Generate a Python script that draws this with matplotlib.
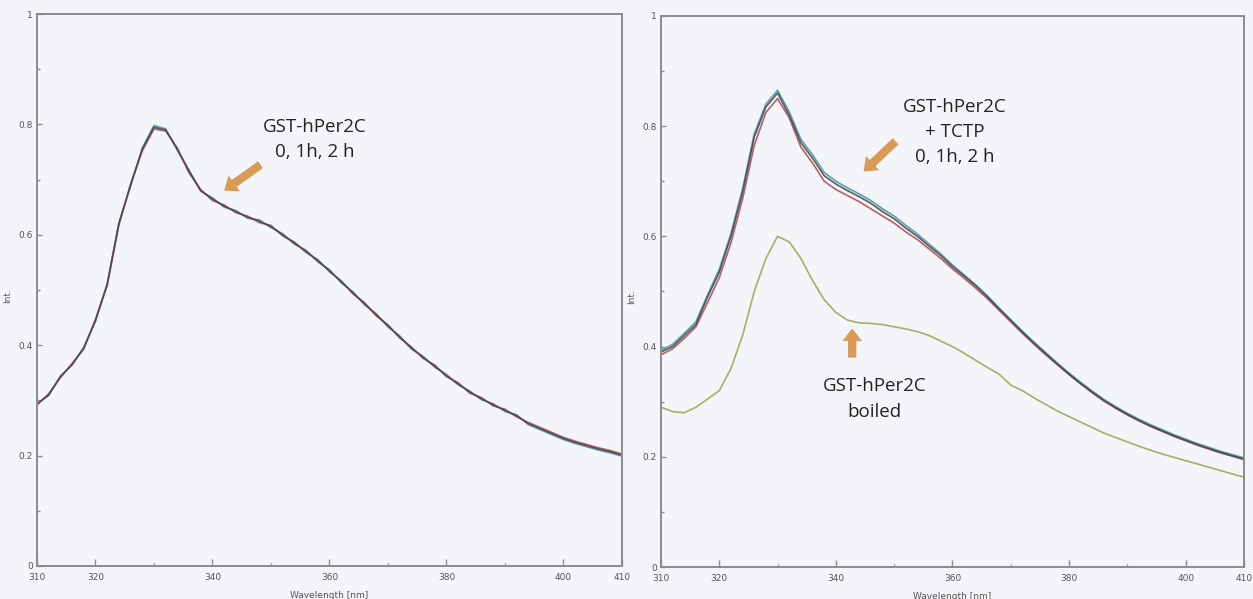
import matplotlib.pyplot as plt
import numpy as np
from matplotlib.ticker import MultipleLocator, FuncFormatter

# wavelength grid of the spectra (nm)
wavelength = np.arange(310, 412, 2)

# left panel: GST-hPer2C at 0, 1 h, 2 h
left_black = [0.293, 0.310, 0.343, 0.365, 0.395, 0.445, 0.510, 0.620, 0.690, 0.755,
              0.795, 0.790, 0.755, 0.715, 0.680, 0.665, 0.652, 0.642, 0.632, 0.625,
              0.615, 0.600, 0.585, 0.570, 0.553, 0.535, 0.515, 0.495, 0.475, 0.455,
              0.435, 0.415, 0.395, 0.378, 0.362, 0.345, 0.330, 0.315, 0.303, 0.292,
              0.282, 0.272, 0.258, 0.249, 0.240, 0.231, 0.224, 0.218, 0.212, 0.207, 0.201]
left_red = [0.292, 0.312, 0.341, 0.367, 0.393, 0.447, 0.508, 0.618, 0.692, 0.752,
            0.792, 0.788, 0.757, 0.712, 0.682, 0.662, 0.654, 0.640, 0.634, 0.622,
            0.617, 0.598, 0.587, 0.568, 0.555, 0.533, 0.517, 0.493, 0.477, 0.453,
            0.437, 0.413, 0.397, 0.376, 0.364, 0.343, 0.332, 0.313, 0.305, 0.290,
            0.284, 0.270, 0.260, 0.251, 0.242, 0.233, 0.226, 0.220, 0.214, 0.209, 0.203]
left_cyan = [0.294, 0.309, 0.344, 0.364, 0.396, 0.443, 0.511, 0.621, 0.688, 0.757,
             0.798, 0.792, 0.753, 0.717, 0.679, 0.667, 0.650, 0.644, 0.630, 0.627,
             0.613, 0.602, 0.583, 0.572, 0.551, 0.537, 0.513, 0.497, 0.473, 0.457,
             0.433, 0.417, 0.393, 0.380, 0.360, 0.347, 0.328, 0.317, 0.301, 0.294,
             0.280, 0.274, 0.256, 0.247, 0.238, 0.229, 0.222, 0.216, 0.210, 0.205, 0.199]

# right panel: GST-hPer2C + TCTP at 0, 1 h, 2 h, and boiled GST-hPer2C
right_black = [0.390, 0.400, 0.420, 0.440, 0.490, 0.535, 0.600, 0.680, 0.780, 0.835,
               0.860, 0.820, 0.770, 0.742, 0.710, 0.695, 0.683, 0.672, 0.660, 0.645,
               0.632, 0.615, 0.600, 0.582, 0.565, 0.545, 0.528, 0.510, 0.490, 0.468,
               0.447, 0.426, 0.406, 0.387, 0.368, 0.350, 0.333, 0.317, 0.302, 0.289,
               0.277, 0.266, 0.256, 0.247, 0.238, 0.230, 0.222, 0.215, 0.208, 0.202, 0.196]
right_red = [0.385, 0.396, 0.415, 0.436, 0.480, 0.525, 0.588, 0.668, 0.765, 0.825,
             0.850, 0.815, 0.762, 0.733, 0.700, 0.685, 0.674, 0.663, 0.650, 0.637,
             0.624, 0.608, 0.594, 0.577, 0.560, 0.541, 0.524, 0.506, 0.487, 0.466,
             0.445, 0.424, 0.404, 0.385, 0.367, 0.349, 0.332, 0.316, 0.301, 0.288,
             0.276, 0.265, 0.255, 0.246, 0.237, 0.229, 0.221, 0.214, 0.207, 0.201, 0.195]
right_cyan = [0.393, 0.404, 0.424, 0.445, 0.494, 0.540, 0.605, 0.686, 0.786, 0.840,
              0.865, 0.826, 0.776, 0.748, 0.716, 0.700, 0.688, 0.677, 0.665, 0.650,
              0.637, 0.620, 0.604, 0.586, 0.568, 0.548, 0.530, 0.512, 0.492, 0.470,
              0.449, 0.428, 0.408, 0.389, 0.370, 0.352, 0.335, 0.319, 0.304, 0.291,
              0.279, 0.268, 0.258, 0.249, 0.240, 0.232, 0.224, 0.217, 0.210, 0.204, 0.198]
right_boiled = [0.290, 0.282, 0.280, 0.290, 0.305, 0.320, 0.360, 0.420, 0.500, 0.560,
                0.600, 0.590, 0.560, 0.520, 0.485, 0.462, 0.448, 0.443, 0.442, 0.440,
                0.436, 0.432, 0.427, 0.420, 0.410, 0.400, 0.388, 0.375, 0.362, 0.350,
                0.330, 0.320, 0.307, 0.295, 0.283, 0.273, 0.263, 0.253, 0.243, 0.235,
                0.227, 0.219, 0.212, 0.205, 0.199, 0.193, 0.187, 0.181, 0.175, 0.169, 0.163]

bg = "#f4f5f8"
spine_col = "#8c8c8c"
arrow_col = "#d99a55"
text_font = ["Open Sans", "DejaVu Sans"]
arrow_style = "simple,head_width=1.4,head_length=0.9,tail_width=0.6"

fig = plt.figure(figsize=(12.53, 5.99), dpi=100, facecolor=bg)
ax1 = fig.add_axes([0.0295, 0.0551, 0.4669, 0.9215])
ax2 = fig.add_axes([0.5275, 0.0534, 0.4653, 0.9200])

for ax in (ax1, ax2):
    ax.set_facecolor(bg)
    ax.set_xlim(310, 410)
    ax.set_ylim(0, 1)
    for s in ax.spines.values():
        s.set_color(spine_col)
        s.set_linewidth(1.4)
    ax.xaxis.set_minor_locator(MultipleLocator(10))
    ax.set_xticks([310, 320, 340, 360, 380, 400, 410])
    ax.yaxis.set_major_locator(MultipleLocator(0.2))
    ax.yaxis.set_minor_locator(MultipleLocator(0.1))
    ax.yaxis.set_major_formatter(FuncFormatter(lambda v, p: "%g" % round(v, 2)))
    ax.tick_params(which="both", direction="in", colors=spine_col, labelcolor="#555555",
                   labelsize=6.5, top=False, right=False)
    ax.tick_params(axis="x", which="major", length=5, width=1, pad=5)
    ax.tick_params(axis="y", which="major", length=3.5, width=1, pad=3)
    ax.tick_params(which="minor", length=2, width=1)
    ax.set_ylabel("Int.", fontsize=6.5, color="#555555")
    ax.set_xlabel("Wavelength [nm]", fontsize=6.5, color="#555555")
    ax.yaxis.set_label_coords(-0.042, 0.49)
    ax.xaxis.set_label_coords(0.5, -0.045)

# left panel curves
ax1.plot(wavelength, left_cyan, color="#5aa0b0", lw=1.2)
ax1.plot(wavelength, left_red, color="#b8606a", lw=1.2)
ax1.plot(wavelength, left_black, color="#444444", lw=1.2, alpha=0.85)

ax1.text(357.5, 0.773, "GST-hPer2C\n0, 1h, 2 h", ha="center", va="center",
         fontsize=13.5, color="#222222", family=text_font, linespacing=1.48)
ax1.annotate("", xy=(341.6, 0.677), xytext=(348.6, 0.730),
             arrowprops=dict(arrowstyle=arrow_style, color=arrow_col, lw=0))

# right panel curves
ax2.plot(wavelength, right_boiled, color="#a9ad6a", lw=1.2)
ax2.plot(wavelength, right_cyan, color="#5aa0b0", lw=1.2)
ax2.plot(wavelength, right_red, color="#b8606a", lw=1.2)
ax2.plot(wavelength, right_black, color="#444444", lw=1.2, alpha=0.85)

ax2.text(360.4, 0.790, "GST-hPer2C\n+ TCTP\n0, 1h, 2 h", ha="center", va="center",
         fontsize=13.5, color="#222222", family=text_font, linespacing=1.5)
ax2.annotate("", xy=(344.4, 0.714), xytext=(350.6, 0.776),
             arrowprops=dict(arrowstyle=arrow_style, color=arrow_col, lw=0))
ax2.text(346.6, 0.305, "GST-hPer2C\nboiled", ha="center", va="center",
         fontsize=13.5, color="#222222", family=text_font, linespacing=1.6)
ax2.annotate("", xy=(342.8, 0.438), xytext=(342.8, 0.375),
             arrowprops=dict(arrowstyle=arrow_style, color=arrow_col, lw=0))

fig.savefig("out.png", dpi=100, facecolor=bg)
